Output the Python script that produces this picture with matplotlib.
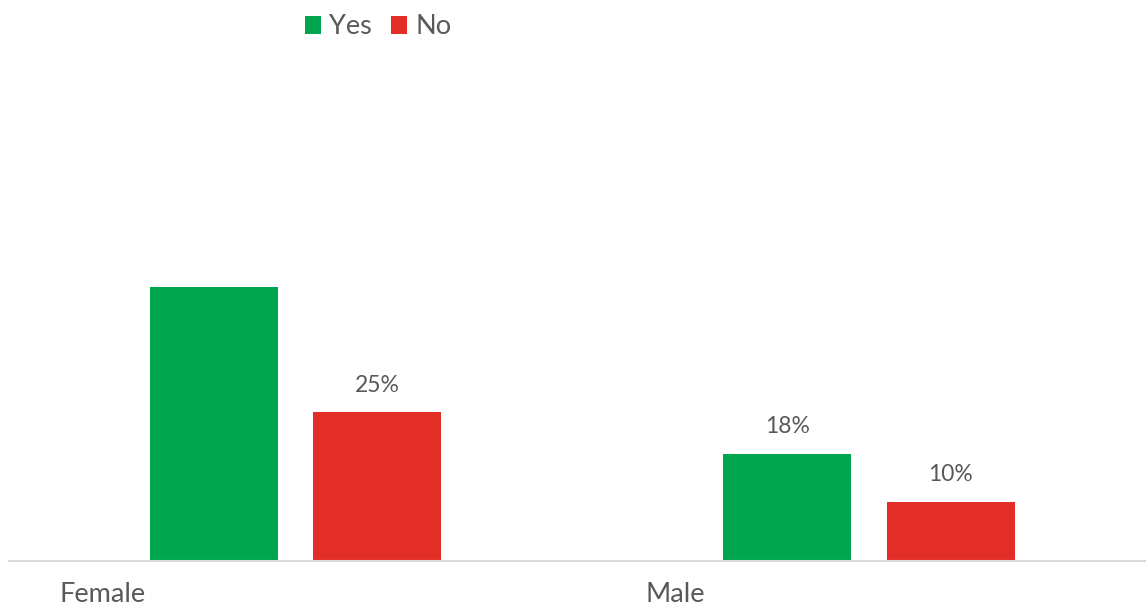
import matplotlib
matplotlib.use("Agg")
import matplotlib.pyplot as plt
import numpy as np

categories = ["Female", "Male"]
series_names = ["Yes", "No"]
yes_values = [46, 18]
no_values = [25, 10]
label_yes = [None, "18%"]
label_no = ["25%", "10%"]

colors = {"Yes": "#00A54F", "No": "#E32E28"}
text_color = "#595959"
font = "Lato"

W, H = 1146, 608
fig = plt.figure(figsize=(W / 100, H / 100), dpi=100)

# axes placed in pixel terms: baseline 47px from bottom, fixed px per percent
left_px, right_px = 8.75, 1155.75
base_px = 47
ymax = 50
px_per_unit = 5.95
ax = fig.add_axes([left_px / W, base_px / H, (right_px - left_px) / W, ymax * px_per_unit / H])
ax.set_xlim(-0.5, 1.5)
ax.set_ylim(0, ymax)

x = np.arange(len(categories))
width = 0.223
offset = 0.1425
bars_yes = ax.bar(x - offset, yes_values, width, color=colors["Yes"], label="Yes")
bars_no = ax.bar(x + offset, no_values, width, color=colors["No"], label="No")

for bars, labels in ((bars_yes, label_yes), (bars_no, label_no)):
    for b, lab in zip(bars, labels):
        if lab:
            ax.annotate(lab, (b.get_x() + b.get_width() / 2, b.get_height()),
                        xytext=(0, 12), textcoords="offset points",
                        ha="center", va="bottom", fontsize=16.5,
                        color=text_color, family=font)

for s in ["top", "right", "left"]:
    ax.spines[s].set_visible(False)
ax.spines["bottom"].set_color("#D9D9D9")
ax.spines["bottom"].set_linewidth(1.5)
ax.set_yticks([])
ax.set_xticks([])
ax.patch.set_visible(False)

# category labels
cat_x_px = [59, 645]
for name, px in zip(categories, cat_x_px):
    fig.text(px / W, 1 - 595 / H, name, ha="left", va="center",
             fontsize=19.5, color=text_color, family=font)

leg = fig.legend(handles=[bars_yes, bars_no], labels=series_names,
                 loc="center", bbox_to_anchor=(378 / W, 1 - 27 / H),
                 ncol=2, frameon=False, handlelength=0.6, handleheight=0.6,
                 handletextpad=0.3, columnspacing=0.7,
                 prop={"family": font, "size": 19.5})
for t in leg.get_texts():
    t.set_color(text_color)

fig.savefig("out.png", dpi=100)
